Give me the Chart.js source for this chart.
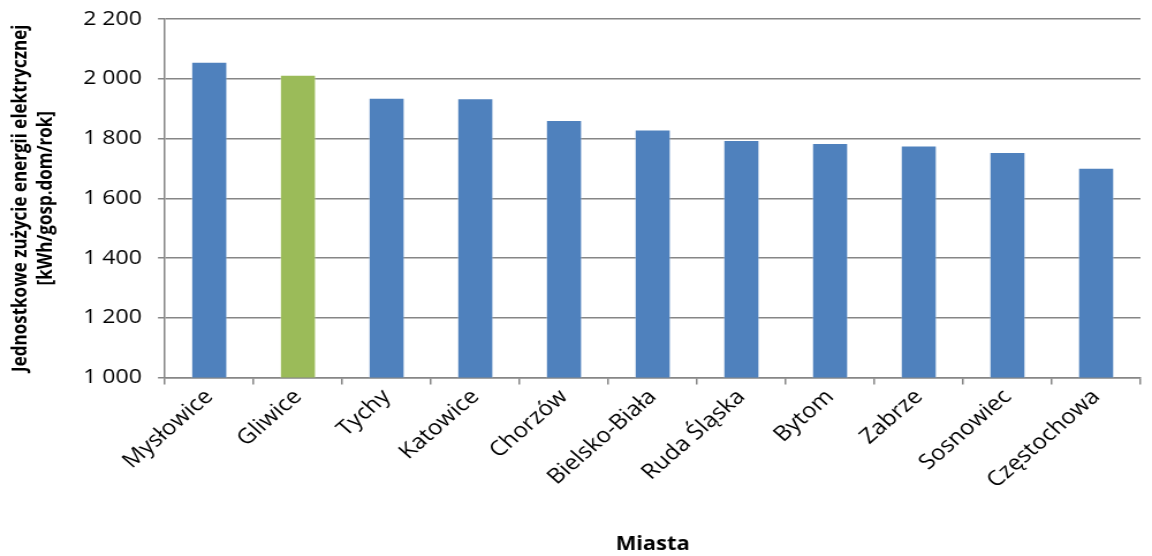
<!DOCTYPE html>
<html lang="pl">
<head>
<meta charset="utf-8">
<title>Jednostkowe zużycie energii elektrycznej</title>
<script src="https://cdn.jsdelivr.net/npm/chart.js@4.4.1/dist/chart.umd.min.js"></script>
<style>
  html, body { margin: 0; padding: 0; background: #fff; overflow: hidden; }
  #wrap { width: 1152px; height: 556px; position: relative; }
  /* wykres rysowany węziej i rozciągnięty w poziomie */
  #chart-zuzycie { transform: scaleX(1.152); transform-origin: 0 0; }
</style>
</head>
<body>
<div id="wrap"><canvas id="chart-zuzycie" width="1000" height="556"></canvas></div>
<script>
// miasta i zużycie [kWh/gosp.dom/rok]
const miasta = [
  "Mysłowice", "Gliwice", "Tychy", "Katowice", "Chorzów", "Bielsko-Biała",
  "Ruda Śląska", "Bytom", "Zabrze", "Sosnowiec", "Częstochowa"
];
const zuzycie = [2057, 2013, 1936, 1935, 1862, 1830, 1795, 1785, 1777, 1755, 1702];
const wyroznione = "Gliwice";
const tytulY = ["Jednostkowe zużycie energii elektrycznej", "[kWh/gosp.dom/rok]"];
const tytulX = "Miasta";

const NIEBIESKI = "#4F81BD";
const ZIELONY = "#9BBB59";
const SZARY = "#868686";
const czcionka = "'Open Sans', sans-serif";

const kolory = miasta.map((m) => (m === wyroznione ? ZIELONY : NIEBIESKI));

// separator tysięcy spacją: "2 200"
function formatujLiczbe(v) {
  return String(v).replace(/\B(?=(\d{3})+(?!\d))/g, " ");
}

const ctx = document.getElementById("chart-zuzycie").getContext("2d");
new Chart(ctx, {
  type: "bar",
  data: {
    labels: miasta,
    datasets: [
      {
        label: "Zużycie",
        data: zuzycie,
        backgroundColor: kolory,
        borderColor: "rgba(255,255,255,0.35)",
        borderWidth: 1,
        barPercentage: 0.41,
        categoryPercentage: 1,
      },
    ],
  },
  options: {
    responsive: false,
    animation: false,
    devicePixelRatio: 1,
    layout: { padding: { top: 19, right: 10, left: 7, bottom: 0 } },
    plugins: {
      legend: { display: false },
      tooltip: { enabled: false },
    },
    scales: {
      x: {
        offset: true,
        grid: {
          offset: true,
          drawOnChartArea: false,
          drawTicks: true,
          tickLength: 7,
          color: SZARY,
          lineWidth: 1.5,
        },
        border: { color: SZARY, width: 1.5 },
        ticks: {
          color: "#000",
          font: { family: czcionka, size: 21 },
          maxRotation: 45,
          minRotation: 45,
          autoSkip: false,
          padding: 0,
        },
        title: {
          display: true,
          text: tytulX,
          color: "#000",
          font: { family: czcionka, size: 19, weight: "bold" },
          padding: { top: 40, bottom: 0 },
        },
      },
      y: {
        min: 1000,
        max: 2200,
        // górna krawędź obszaru wykresu tylko z layout.padding
        afterFit: (scale) => {
          scale.paddingTop = 0;
        },
        grid: {
          color: SZARY,
          lineWidth: 1.5,
          drawTicks: true,
          tickLength: 6,
        },
        border: { color: SZARY, width: 1.5 },
        ticks: {
          stepSize: 200,
          color: "#000",
          font: { family: czcionka, size: 20 },
          padding: 14,
          callback: (v) => formatujLiczbe(v),
        },
        title: {
          display: true,
          text: tytulY,
          color: "#000",
          font: { family: czcionka, size: 17, weight: "bold", lineHeight: 1.3 },
          padding: { top: 0, bottom: 7 },
        },
      },
    },
  },
});
</script>
</body>
</html>
